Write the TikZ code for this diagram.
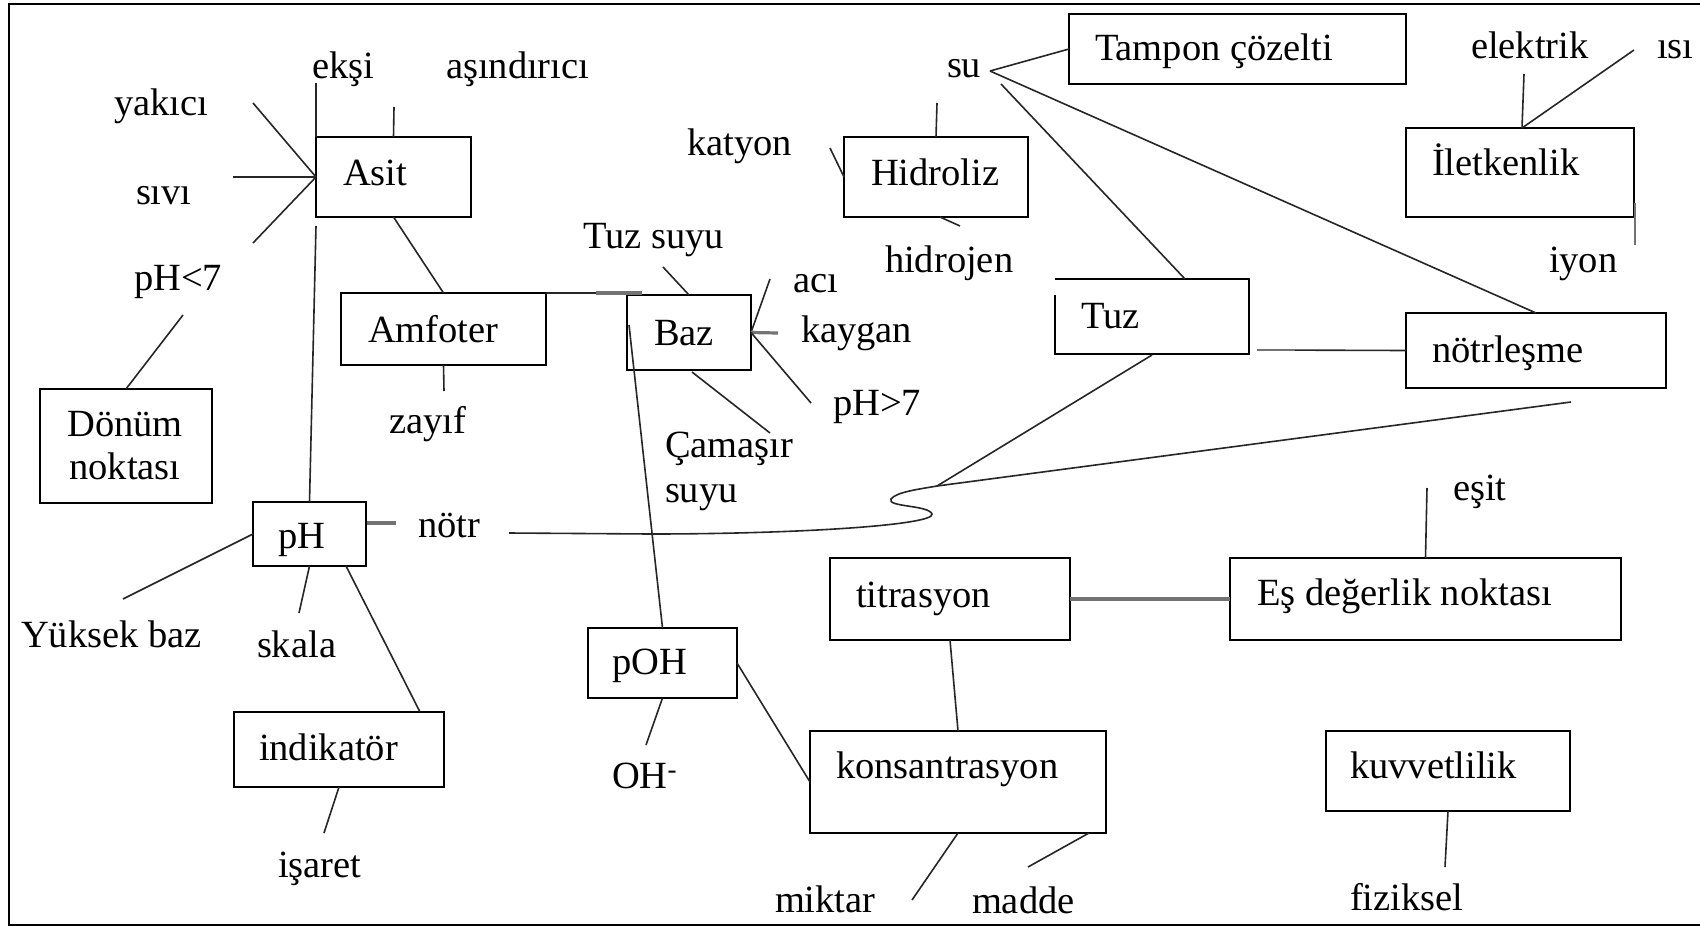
\documentclass[tikz,border=0pt]{standalone}
\usepackage{fontspec}
\setmainfont{Liberation Serif}
\usetikzlibrary{calc}
\newcommand\mapfont{\fontsize{38.5}{43}\selectfont}

\tikzset{
  conceptbox/.style={draw=black, line width=2.4pt, inner sep=0pt, outer sep=0pt, anchor=north west},
  term/.style={anchor=base west, inner sep=0pt, outer sep=0pt, font=\mapfont},
  link/.style={draw=black!85, line width=1.6pt},
  heavylink/.style={draw=black!55, line width=3.2pt},
  edge/.style={draw=black, line width=2.6pt},
}

\begin{document}
\begin{tikzpicture}[x=1pt, y=-1pt]
  \useasboundingbox (0,0) rectangle (1700,926);
  \fill[white] (0,0) rectangle (1700,926);

  % frame round the map (open on the right)
  \coordinate (frTR) at (1700,4);
  \coordinate (frTL) at (9,4);
  \coordinate (frBL) at (9,925);
  \coordinate (frBR) at (1700,925);
  \draw[edge] (frTR) -- (frTL) -- (frBL) -- (frBR);

  % ---- concept boxes ----
  \node[conceptbox, minimum width=155pt, minimum height=80pt]  (asit)     at (316,137) {};
  \node[conceptbox, minimum width=205pt, minimum height=72pt]  (amfoter)  at (341,293) {};
  \node[conceptbox, minimum width=124pt, minimum height=75pt]  (baz)      at (627,295) {};
  \node[conceptbox, minimum width=172pt, minimum height=114pt] (donum)    at (40,389) {};
  \node[conceptbox, minimum width=113pt, minimum height=64pt]  (ph)       at (253,502) {};
  \node[conceptbox, minimum width=210pt, minimum height=75pt]  (indikator) at (234,712) {};
  \node[conceptbox, minimum width=149pt, minimum height=70pt]  (poh)      at (588,628) {};
  \node[conceptbox, minimum width=184pt, minimum height=80pt]  (hidroliz) at (844,137) {};
  \node[conceptbox, minimum width=337pt, minimum height=70pt]  (tampon)   at (1069,14) {};
  \node[conceptbox, draw=none, minimum width=194pt, minimum height=75pt] (tuz) at (1055,279) {};
  \node[conceptbox, minimum width=260pt, minimum height=75pt]  (notrlesme) at (1406,313) {};
  \node[conceptbox, minimum width=228pt, minimum height=89pt]  (iletkenlik) at (1406,128) {};
  \node[conceptbox, minimum width=240pt, minimum height=82pt]  (titrasyon) at (830,558) {};
  \node[conceptbox, minimum width=391pt, minimum height=82pt]  (esdeger)  at (1230,558) {};
  \node[conceptbox, minimum width=296pt, minimum height=102pt] (konsantrasyon) at (810,731) {};
  \node[conceptbox, minimum width=244pt, minimum height=80pt]  (kuvvetlilik) at (1326,731) {};

  % the Tuz box has a gap at the top of its left side
  \draw[line width=2.4pt] ($(tuz.north west)+(0,16)$) -- (tuz.south west) -- (tuz.south east)
        -- (tuz.north east) -- (tuz.north west);

  % ---- texts ----
  \node[term] (tAsit)      at (343,185) {Asit};
  \node[term] (tAmfoter)   at (368,342) {Amfoter};
  \node[term] (tBaz)       at (654,345) {Baz};
  \node[term, anchor=base] (tDonumA) at (125,436) {Dönüm};
  \node[term, anchor=base] (tDonumB) at (125,479) {noktası};
  \node[term] (tPh)        at (278,548) {pH};
  \node[term] (tIndikator) at (259,760) {indikatör};
  \node[term] (tPoh)       at (612,674) {pOH};
  \node[term] (tHidroliz)  at (871,185) {Hidroliz};
  \node[term] (tTampon)    at (1095,60) {Tampon çözelti};
  \node[term] (tTuz)       at (1081,328) {Tuz};
  \node[term] (tNotrlesme) at (1432,362) {nötrleşme};
  \node[term] (tIletkenlik) at (1432,175) {İletkenlik};
  \node[term] (tTitrasyon) at (856,607) {titrasyon};
  \node[term] (tEsdeger)   at (1257,605) {Eş değerlik noktası};
  \node[term] (tKonsantrasyon) at (836,778) {konsantrasyon};
  \node[term] (tKuvvetlilik) at (1350,778) {kuvvetlilik};

  \node[term] (eksi)    at (312,78)  {ekşi};
  \node[term] (asindirici) at (446,78) {aşındırıcı};
  \node[term] (yakici)  at (114,115) {yakıcı};
  \node[term] (sivi)    at (136,204) {sıvı};
  \node[term] (phlt)    at (134,290) {pH<7};
  \node[term] (zayif)   at (389,433) {zayıf};
  \node[term] (notr)    at (418,537) {nötr};
  \node[term] (yuksek)  at (21,647)  {Yüksek baz};
  \node[term] (skala)   at (257,657) {skala};
  \node[term] (isaret)  at (278,877) {işaret};
  \node[term] (ohion)   at (612,788) {OH\textsuperscript{-}};
  \node[term] (miktar)  at (775,912) {miktar};
  \node[term] (madde)   at (972,913) {madde};
  \node[term] (tuzsuyu) at (583,248) {Tuz suyu};
  \node[term] (aci)     at (793,292) {acı};
  \node[term] (kaygan)  at (801,342) {kaygan};
  \node[term] (phgt)    at (833,415) {pH>7};
  \node[term] (camasirA) at (665,457) {Çamaşır};
  \node[term] (camasirB) at (665,502) {suyu};
  \node[term] (katyon)  at (687,155) {katyon};
  \node[term] (hidrojen) at (885,272) {hidrojen};
  \node[term] (su)      at (947,77)  {su};
  \node[term] (elektrik) at (1471,58) {elektrik};
  \node[term] (isi)     at (1657,58) {ısı};
  \node[term] (iyon)    at (1549,272) {iyon};
  \node[term] (esit)    at (1453,500) {eşit};
  \node[term] (fiziksel) at (1350,910) {fiziksel};

  % ---- free ends of the connectors ----
  \coordinate (cEksi)   at (316,83);
  \coordinate (cAsin)   at (394,107);
  \coordinate (cYak)    at (253,103);
  \coordinate (cSivi)   at (233,177);
  \coordinate (cPhlt)   at (253,243);
  \coordinate (cAsitLo) at (316,226);
  \coordinate (cPhltLo) at (183,315);
  \coordinate (cZayif)  at (444,391);
  \coordinate (cPhR)    at (367,523);
  \coordinate (cNotrL)  at (396,523);
  \coordinate (cYuksek) at (123,599);
  \coordinate (cSkala)  at (299,613);
  \coordinate (cPhInd)  at (346,566);
  \coordinate (cIndTop) at (420,712);
  \coordinate (cIsaret) at (324,833);
  \coordinate (cAmfBaz) at (642,293);
  \coordinate (cTuzSuyu) at (663,267);
  \coordinate (cAci)    at (770,279);
  \coordinate (cKaygan) at (778,333);
  \coordinate (cPhgt)   at (811,403);
  \coordinate (cBazLo)  at (692,372);
  \coordinate (cCamasir) at (770,433);
  \coordinate (cBazIn)  at (629,325);
  \coordinate (cOh)     at (646,745);
  \coordinate (cHidTop) at (937,103);
  \coordinate (cKatyon) at (830,148);
  \coordinate (cHidLo)  at (940,217);
  \coordinate (cHidrojen) at (960,226);
  \coordinate (cSu)     at (990,71);
  \coordinate (cSuLo)   at (1001,84);
  \coordinate (cTuzTop) at (1185,279);
  \coordinate (cElek)   at (1524,74);
  \coordinate (cIsi)    at (1634,50);
  \coordinate (cIletTop) at (1522,128);
  \coordinate (cIyonA)  at (1635,203);
  \coordinate (cIyonB)  at (1635,245);
  \coordinate (cTuzR)   at (1257,350);
  \coordinate (cTuzLo)  at (1152,355);
  \coordinate (cNotrLo) at (1571,402);
  \coordinate (cJoin)   at (937,486);
  \coordinate (cNotrTail) at (509,533);
  \coordinate (cEsit)   at (1427,488);
  \coordinate (cMiktar) at (912,900);
  \coordinate (cKonsR)  at (1089,833);
  \coordinate (cMadde)  at (1028,867);
  \coordinate (cFiziksel) at (1445,867);

  % ---- connectors ----
  \draw[link] (cEksi) -- (asit.north west);
  \draw[link] (cAsin) -- (asit.north);
  \draw[link] (cYak) -- (asit.west);
  \draw[link] (cSivi) -- (asit.west);
  \draw[link] (cPhlt) -- (asit.west);
  \draw[link] (cAsitLo) -- (ph.north);
  \draw[link] (asit.south) -- (amfoter.north);
  \draw[link] (cPhltLo) -- (donum.north);
  \draw[link] (amfoter.south) -- (cZayif);
  \draw[heavylink] (cPhR) -- (cNotrL);
  \draw[link] (ph.west) -- (cYuksek);
  \draw[link] (ph.south) -- (cSkala);
  \draw[link] (cPhInd) -- (cIndTop);
  \draw[link] (indikator.south) -- (cIsaret);
  \draw[link] (amfoter.north east) -- (cAmfBaz);
  \draw[heavylink] ($(amfoter.north east)+(50,0)$) -- (cAmfBaz);
  \draw[link] (cTuzSuyu) -- (baz.north);
  \draw[link] (cAci) -- (baz.east);
  \draw[heavylink] (baz.east) -- (cKaygan);
  \draw[link] (baz.east) -- (cPhgt);
  \draw[link] (cBazLo) -- (cCamasir);
  \draw[link] (cBazIn) -- (poh.north);
  \draw[link] (poh.south) -- (cOh);
  \draw[link] (poh.east) -- (konsantrasyon.west);
  \draw[link] (cHidTop) -- (hidroliz.north);
  \draw[link] (cKatyon) -- (hidroliz.west);
  \draw[link] (cHidLo) -- (cHidrojen);
  \draw[link] (cSu) -- (tampon.west);
  \draw[link] (cSu) -- (notrlesme.north);
  \draw[link] (cSuLo) -- (cTuzTop);
  \draw[link] (cElek) -- (cIletTop);
  \draw[link] (cIsi) -- (cIletTop);
  \draw[heavylink, line width=2.4pt] (cIyonA) -- (cIyonB);
  \draw[link] (cTuzR) -- (notrlesme.west);
  \draw[heavylink, line width=2.4pt] (cTuzR) -- ($(cTuzR)+(38,0)$);
  \draw[link] (cTuzLo) -- (cJoin);
  \draw[link] (cNotrLo) -- (cJoin);
  \draw[link] (cNotrTail) -- (650,534)
        .. controls (800,534) and (935,525) .. (932,514)
        .. controls (929,505) and (886,507) .. (891,499)
        .. controls (896,492) and (920,489) .. (cJoin);
  \draw[link] (cEsit) -- (esdeger.north);
  \draw[heavylink, line width=4pt] (titrasyon.east) -- (esdeger.west);
  \draw[link] (titrasyon.south) -- (konsantrasyon.north);
  \draw[link] (konsantrasyon.south) -- (cMiktar);
  \draw[link] (cKonsR) -- (cMadde);
  \draw[link] (kuvvetlilik.south) -- (cFiziksel);
\end{tikzpicture}
\end{document}
